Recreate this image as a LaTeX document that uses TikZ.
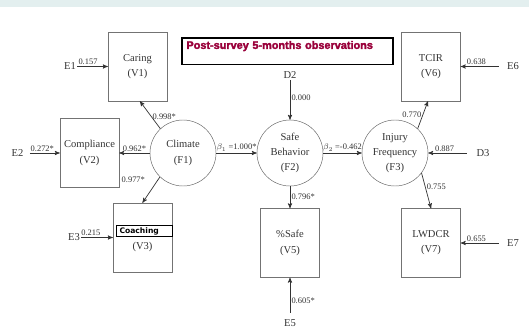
\documentclass[tikz,border=0pt]{standalone}
\usepackage{fontspec}
\setmainfont{Liberation Serif}
\newfontfamily\titlefont[BoldFeatures={FakeBold=2.5}]{Liberation Sans}
\newfontfamily\tagfont{DejaVu Sans}
\usetikzlibrary{arrows}
\definecolor{bandgray}{HTML}{E3EFEF}
\definecolor{titlered}{HTML}{99003A}

\begin{document}
\begin{tikzpicture}[->,>=stealth',semithick,x=0.03cm,y=-0.03cm,
  every node/.style={text=black!80},
  every edge/.style={draw=black!80},
  var/.style={draw=black!55,thin,minimum width=1.77cm,minimum height=2.07cm,align=center,font=\fontsize{9}{13}\selectfont},
  fac/.style={circle,draw=black!60,thin,minimum size=1.98cm,inner sep=0pt,align=center,font=\fontsize{9}{13}\selectfont},
  err/.style={inner sep=1pt,font=\fontsize{9}{11}\selectfont},
  lbl/.style={inner sep=1pt,font=\fontsize{7.2}{8}\selectfont}]

	\useasboundingbox (0,0) rectangle (529,331);
	\fill[bandgray,-] (0,0) rectangle (529,7);

	% factors
	\node[fac] (f1) at (183,153) {Climate\\(F1)};
	\node[fac] (f2) at (290,153) {Safe\\Behavior\\(F2)};
	\node[fac] (f3) at (395,153) {Injury\\Frequency\\(F3)};

	% measured variables
	\node[var] (v1) at (137.5,66.5) {Caring\\(V1)};
	\node[var] (v2) at (89.5,153) {Compliance\\(V2)};
	\node[var] (v3) at (142.5,237.5) {\strut\\(V3)};
	\node[var] (v5) at (290,243) {\%Safe\\(V5)};
	\node[var] (v6) at (431,66.5) {TCIR\\(V6)};
	\node[var] (v7) at (431,243) {LWDCR\\(V7)};

	% errors and disturbances
	\node[err] (e1) at (70,66.5) {E1};
	\node[err] (e2) at (17.5,153) {E2};
	\node[err] (e3) at (74,237.5) {E3};
	\node[err] (e5) at (290,323) {E5};
	\node[err] (e6) at (513,66.5) {E6};
	\node[err] (e7) at (513,243) {E7};
	\node[err] (d2) at (290,75) {D2};
	\node[err] (d3) at (483,153) {D3};

	% overlays
	\node[draw=black,line width=1.3pt,anchor=north west,inner xsep=4pt,inner ysep=0pt,
		text width=6.05cm,text height=9.5pt,text depth=13.5pt,
		font=\titlefont\bfseries\fontsize{9.3}{10}\selectfont,text=titlered] (title) at (181,37)
		{Post-survey 5-months observations};
	\node[draw=black,line width=1.2pt,fill=white,inner xsep=2.5pt,inner ysep=1.5pt,
		text width=1.5cm,font=\tagfont\bfseries\fontsize{6.5}{7}\selectfont,text=black] (coach) at (144.5,231)
		{Coaching};

	\path
	(e1) edge node[lbl,above,pos=0.35] {0.157} (v1)
	(e2) edge[shorten <=1.5mm] node[lbl,above] {0.272*} (v2)
	(e3) edge node[lbl,above,pos=0.3] {0.215} (v3)
	(f1.133) edge node[lbl,right,pos=0.45] {0.998*} (v1.274)
	(f1) edge node[lbl,above] {0.962*} (v2)
	(f1.226) edge node[lbl,left=10pt,pos=0.1] {0.977*} (v3.north)
	(f1) edge node[lbl,above] {$\beta_1$ =1.000*} (f2)
	(d2) edge node[lbl,right,pos=0.45] {0.000} (f2)
	(f2) edge node[lbl,above] {$\beta_2$ =-0.462} (f3)
	(f2) edge node[lbl,right] {0.796*} (v5)
	(e5) edge[shorten <=1.5mm] node[lbl,right,pos=0.44] {0.605*} (v5)
	(f3.47) edge node[lbl,left] {0.770} (v6.265)
	(d3) edge[shorten <=2.5mm] node[lbl,above,pos=0.65] {0.887} (f3)
	(f3.-37) edge node[lbl,right,pos=0.4] {0.755} (v7.north)
	(e6) edge[shorten <=2mm] node[lbl,above,pos=0.65] {0.638} (v6)
	(e7) edge[shorten <=2mm] node[lbl,above,pos=0.65] {0.655} (v7);
\end{tikzpicture}
\end{document}
